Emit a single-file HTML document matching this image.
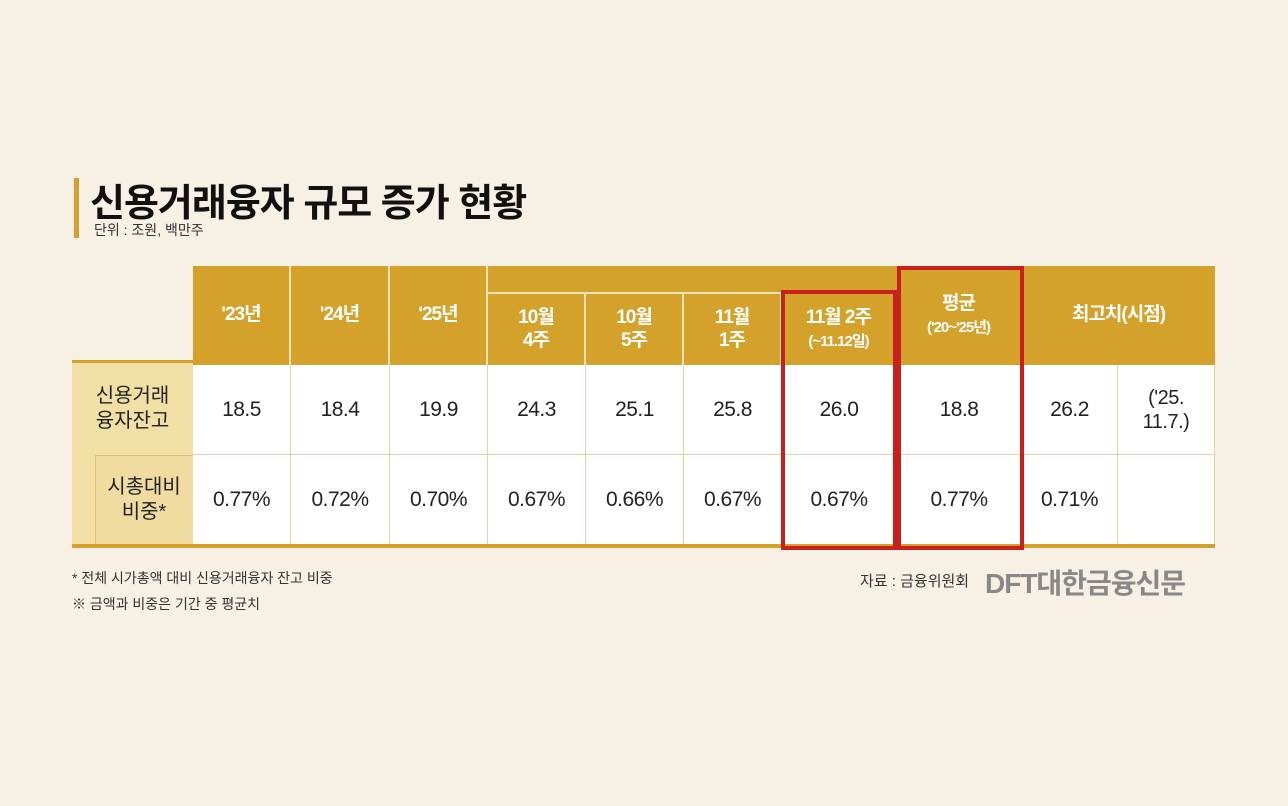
<!DOCTYPE html>
<html><head><meta charset="utf-8"><style>
body{margin:0;width:1288px;height:806px;background:#f6f1e4;position:relative;overflow:hidden;font-family:"Liberation Sans","Noto Sans CJK KR",sans-serif}
.a{position:absolute}
.h{position:absolute;color:#fff;font-weight:bold;text-align:center;display:flex;align-items:center;justify-content:center;font-size:19px;line-height:1.2;letter-spacing:-1px}
.c{position:absolute;background:#fff;color:#222;font-size:21px;display:flex;align-items:center;justify-content:center;letter-spacing:-0.5px;text-align:center}
.lb{position:absolute;display:flex;align-items:center;justify-content:center;text-align:center;font-size:20px;line-height:25px;color:#222}
</style></head><body>
<div class="a" style="left:74px;top:178px;width:5px;height:60px;background:#d4a12a"></div>
<div class="a" style="left:90px;top:172px;font-size:38px;font-weight:bold;color:#111;letter-spacing:-1px">신용거래융자 규모 증가 현황</div>
<div class="a" style="left:94px;top:220px;font-size:14px;color:#333">단위 : 조원, 백만주</div>
<div class="a" style="left:193px;top:266px;width:1022px;height:99px;background:#d4a12a"></div>
<div class="a" style="left:72px;top:360px;width:121px;height:185px;background:#f2dfa6;border-top:3px solid #d4a12a"></div>
<div class="a" style="left:95px;top:455px;width:98px;height:90px;background:#f0dba0;border-left:1px solid #e0c070;border-top:1px solid #e0c070"></div>
<div class="lb" style="left:72px;top:363px;width:121px;height:92px">신용거래<br>융자잔고</div>
<div class="lb" style="left:95px;top:455px;width:98px;height:90px">시총대비<br>비중*</div>
<div id="tbl"></div>
<div class="a" style="left:72px;top:544px;width:1143px;height:4px;background:#d4a12a"></div>
<div class="a" style="left:781px;top:290px;width:108px;height:252px;border:4px solid #c8201c"></div>
<div class="a" style="left:897px;top:266px;width:119px;height:276px;border:4px solid #c8201c"></div>
<div class="a" style="left:72px;top:568px;font-size:14px;color:#333">* 전체 시가총액 대비 신용거래융자 잔고 비중</div>
<div class="a" style="left:72px;top:594px;font-size:14px;color:#333">※ 금액과 비중은 기간 중 평균치</div>
<div class="a" style="left:860px;top:570px;font-size:15px;color:#333">자료 : 금융위원회</div>
<div class="a" style="left:985px;top:562px;font-size:28px;font-weight:bold;color:#888;letter-spacing:-1px">DFT대한금융신문</div>
<script>
const cols=["'23년","'24년","'25년","10월<br>4주","10월<br>5주","11월<br>1주","11월 2주<br><span style='font-size:15px'>(~11.12일)</span>","평균<br><span style='font-size:15px'>('20~'25년)</span>","최고치(시점)"];
const balance=["18.5","18.4","19.9","24.3","25.1","25.8","26.0","18.8","26.2","('25.<br>11.7.)"];
const ratio=["0.77%","0.72%","0.70%","0.67%","0.66%","0.67%","0.67%","0.77%","0.71%",""];
const xs=[193,291,390,488,586,684,782,897,1022,1118,1215];
const t=document.getElementById('tbl');
cols.forEach((c,i)=>{
 const d=document.createElement('div');d.className='h';
 
 
 const x0=xs[i],x1=i==8?xs[10]:xs[i+1];
 const sub=i>=3&&i<=6;
 d.style.cssText=`left:${x0}px;top:${sub?292:266}px;width:${x1-x0}px;height:${sub?73:99}px;${i<8?'border-right:2px solid #f3e4b8;box-sizing:border-box;':''}${sub?'border-top:2px solid #f3e4b8;':''}`;
 d.innerHTML='<div>'+c+'</div>';t.appendChild(d);
});
[balance,ratio].forEach((arr,r)=>{
 arr.forEach((v,i)=>{
  const d=document.createElement('div');d.className='c';
  
  
  d.style.cssText=`left:${xs[i]}px;top:${365+r*90}px;width:${xs[i+1]-xs[i]}px;height:90px;border-right:1px solid #e8d49a;border-bottom:1px solid #e8d49a;box-sizing:border-box;${i==9?'font-size:20px;line-height:24px;':''}`;
  d.innerHTML='<div>'+v+'</div>';t.appendChild(d);
 });
});
</script>
</body></html>
